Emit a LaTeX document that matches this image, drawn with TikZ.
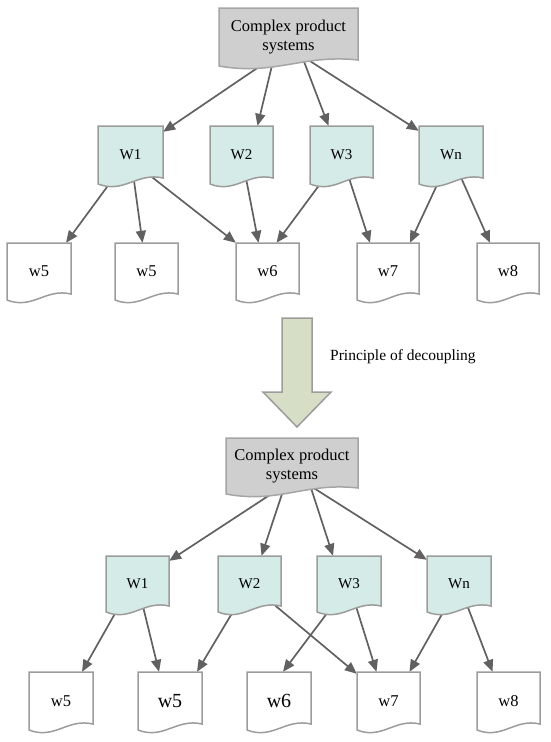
\documentclass[tikz,border=0pt]{standalone}
\usepackage{fontspec}
\setmainfont{Liberation Serif}
\usetikzlibrary{arrows.meta,calc}
\pgfdeclarelayer{bg}
\pgfsetlayers{bg,main}
\definecolor{cpsfill}{HTML}{CFCFCF}
\definecolor{cpsdraw}{HTML}{A5A5A5}
\definecolor{wfill}{HTML}{D4EBE8}
\definecolor{docdraw}{HTML}{9C9C9C}
\definecolor{linecol}{HTML}{616161}
\definecolor{bigfill}{HTML}{D6DEC6}
\tikzset{
  cpsbox/.style={fill=cpsfill, draw=cpsdraw, line width=1.5pt},
  wbox/.style={fill=wfill, draw=docdraw, line width=1.5pt},
  ebox/.style={fill=white, draw=docdraw, line width=1.5pt},
  docnode/.style={inner sep=0pt, draw=none, align=center},
  cpsfont/.style={font=\fontsize{16.5}{19.8}\selectfont},
  wfont/.style={font=\fontsize{15}{18}\selectfont},
  efont/.style={font=\fontsize{16.5}{19.8}\selectfont},
  bigefont/.style={font=\fontsize{20}{24}\selectfont},
  conn/.style={draw=linecol, line width=1.7pt, -{Triangle[length=12pt,width=10pt]}},
  bigarrow/.style={fill=bigfill, draw=docdraw, line width=1.5pt},
  lbl/.style={font=\fontsize{15.5}{18.6}\selectfont, inner sep=0pt, anchor=west}
}
% #1 name, #2 x1, #3 y1, #4 x2, #5 bottom, #6 shape style, #7 node style, #8 text
\newcommand\mydoc[8]{%
  \path[#6] (#2,#3) -- (#4,#3) -- (#4,#5-6)
    .. controls ({#4-0.4*(#4-#2)},#5-12) and ({#2+0.4*(#4-#2)},#5+10) .. (#2,#5) -- cycle;
  \node[docnode,#7,minimum width={(#4-#2)*1pt},minimum height={(#5-#3)*1pt}]
    (#1) at ({(#2+#4)/2},{(#3+#5)/2}) {#8};%
}
\begin{document}
\begin{tikzpicture}[x=1pt,y=-1pt]
\useasboundingbox (0,0) rectangle (550,742);
% ---------- top diagram ----------
\mydoc{cps1}{219}{8}{358}{66}{cpsbox}{cpsfont}{Complex product\\systems}
\mydoc{W1a}{98}{126}{163}{184}{wbox}{wfont}{W1}
\mydoc{W2a}{210}{126}{273}{184}{wbox}{wfont}{W2}
\mydoc{W3a}{310}{126}{373}{184}{wbox}{wfont}{W3}
\mydoc{Wna}{419}{126}{483}{184}{wbox}{wfont}{Wn}
\mydoc{w5a}{7}{243}{71}{300}{ebox}{efont}{w5}
\mydoc{w5b}{115}{243}{178}{300}{ebox}{efont}{w5}
\mydoc{w6a}{236}{243}{299}{300}{ebox}{efont}{w6}
\mydoc{w7a}{357}{243}{419}{300}{ebox}{efont}{w7}
\mydoc{w8a}{477}{243}{539}{300}{ebox}{efont}{w8}
% ---------- big arrow ----------
\path[bigarrow] (282,318) -- (312,318) -- (312,392) -- (331,392) -- (297,427)
  -- (263,392) -- (282,392) -- cycle;
\node[lbl] (label) at (330,357) {Principle of decoupling};
% ---------- bottom diagram ----------
\mydoc{cps2}{226}{438}{358}{494}{cpsbox}{cpsfont}{Complex product\\systems}
\mydoc{W1b}{106}{556}{169}{612}{wbox}{wfont}{W1}
\mydoc{W2b}{218}{556}{281}{612}{wbox}{wfont}{W2}
\mydoc{W3b}{317}{556}{381}{612}{wbox}{wfont}{W3}
\mydoc{Wnb}{427}{556}{491}{612}{wbox}{wfont}{Wn}
\mydoc{w5c}{29}{672}{93}{730}{ebox}{efont}{w5}
\mydoc{w5d}{138}{672}{202}{730}{ebox}{bigefont}{w5}
\mydoc{w6b}{247}{672}{311}{730}{ebox}{bigefont}{w6}
\mydoc{w7b}{357}{672}{420}{730}{ebox}{efont}{w7}
\mydoc{w8b}{477}{672}{540}{730}{ebox}{efont}{w8}
% ---------- connectors ----------
\begin{pgfonlayer}{bg}
\draw[conn] ([shift={(-12,18)}]cps1.center) -- ([yshift=-6pt]W1a.north east);
\draw[conn] ([shift={(-14,18)}]cps1.center) -- ([xshift=16pt]W2a.north);
\draw[conn] ([shift={(13,18)}]cps1.center) -- ([xshift=-13pt]W3a.north);
\draw[conn] ([shift={(12,18)}]cps1.center) -- ([yshift=-5pt]Wna.north west);
\draw[conn] (W1a.center) -- ([xshift=27pt]w5a.north);
\draw[conn] (W1a.center) -- ([xshift=-4pt]w5b.north);
\draw[conn] ([shift={(6,10)}]W1a.center) -- (w6a.north west);
\draw[conn] (W2a.center) -- ([xshift=-9pt]w6a.north);
\draw[conn] (W3a.center) -- ([xshift=9pt]w6a.north);
\draw[conn] (W3a.center) -- ([xshift=-18pt]w7a.north);
\draw[conn] (Wna.center) -- ([xshift=22pt]w7a.north);
\draw[conn] (Wna.center) -- ([xshift=-18pt]w8a.north);
\draw[conn] ([shift={(-7,19)}]cps2.center) -- ([yshift=-5pt]W1b.north east);
\draw[conn] ([shift={(-7,19)}]cps2.center) -- ([xshift=12pt]W2b.north);
\draw[conn] ([shift={(18,19)}]cps2.center) -- ([xshift=-16pt]W3b.north);
\draw[conn] ([shift={(17,19)}]cps2.center) -- ([yshift=-4pt]Wnb.north west);
\draw[conn] ([shift={(-12,11)}]W1b.center) -- ([xshift=21pt]w5c.north);
\draw[conn] (W1b.center) -- ([xshift=-11pt]w5d.north);
\draw[conn] (W2b.center) -- ([xshift=27pt]w5d.north);
\draw[conn] (W2b.center) -- ([yshift=-2pt]w7b.north west);
\draw[conn] (W3b.center) -- ([xshift=4pt]w6b.north);
\draw[conn] (W3b.center) -- ([xshift=-12pt]w7b.north);
\draw[conn] (Wnb.center) -- ([xshift=21pt]w7b.north);
\draw[conn] (Wnb.center) -- ([xshift=-16pt]w8b.north);
\end{pgfonlayer}
\end{tikzpicture}
\end{document}
